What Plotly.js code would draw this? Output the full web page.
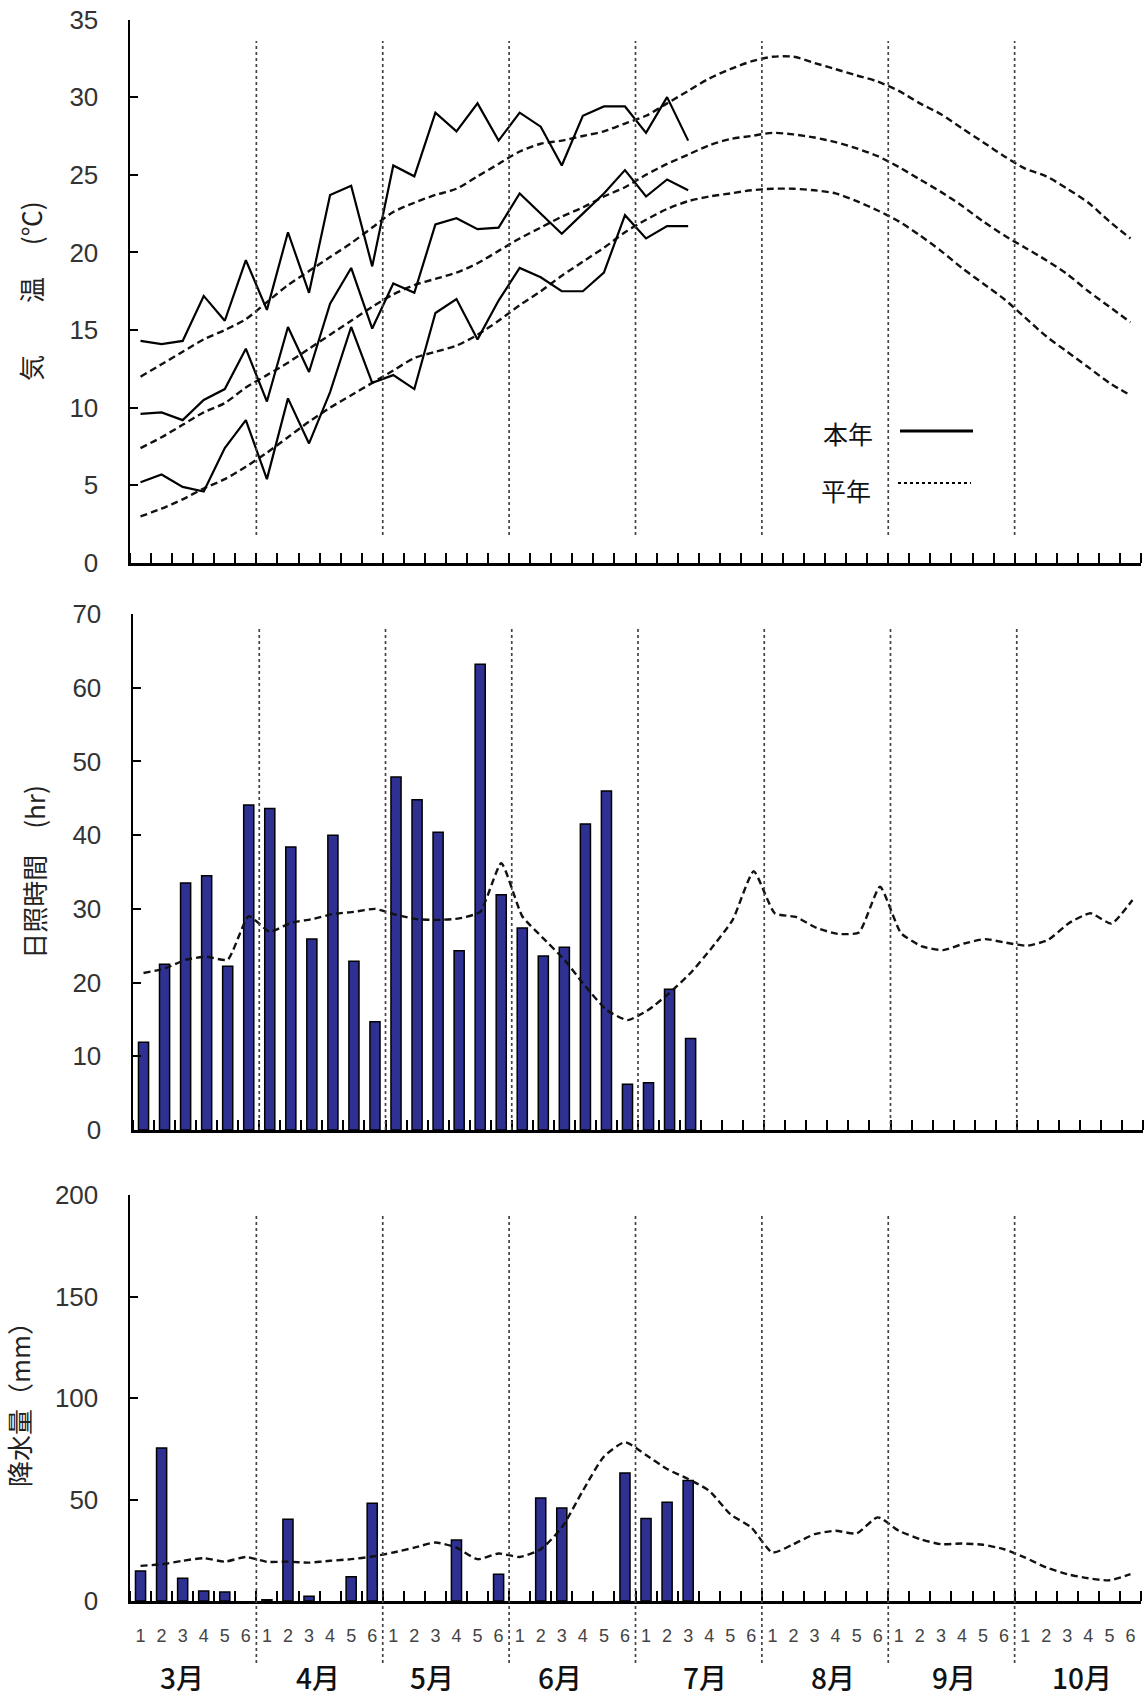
<!DOCTYPE html>
<html><head><meta charset="utf-8">
<script src="https://cdn.plot.ly/plotly-3.0.1.min.js"></script>
<style>html,body{margin:0;padding:0;background:#fff}#chart{width:1145px;height:1699px}</style>
</head><body><div id="chart"></div>
<script>
// ---- categories ----
const months = ['3月','4月','5月','6月','7月','8月','9月','10月'];
const periodLabels = ['1','2','3','4','5','6'];
const legendLabels = ['本年','平年'];

// ---- temperature (°C) ----
const tempMaxThisYear  = [14.3,14.1,14.3,17.2,15.6,19.5,16.3,21.3,17.4,23.7,24.3,19.1,25.6,24.9,29.0,27.8,29.6,27.2,29.0,28.1,25.6,28.8,29.4,29.4,27.7,30.0,27.2];
const tempMeanThisYear = [9.6,9.7,9.2,10.5,11.2,13.8,10.4,15.2,12.3,16.7,19.0,15.1,18.0,17.4,21.8,22.2,21.5,21.6,23.8,22.5,21.2,22.5,23.8,25.3,23.6,24.7,24.0];
const tempMinThisYear  = [5.2,5.7,4.9,4.6,7.4,9.2,5.4,10.6,7.7,11.0,15.2,11.6,12.1,11.2,16.1,17.0,14.4,16.9,19.0,18.4,17.5,17.5,18.7,22.4,20.9,21.7,21.7];
const tempMaxNormal  = [12.0,12.8,13.6,14.4,15.0,15.7,16.8,17.9,18.8,19.7,20.6,21.6,22.6,23.2,23.7,24.1,24.9,25.7,26.5,27.0,27.2,27.5,27.8,28.3,28.8,29.6,30.4,31.2,31.8,32.3,32.6,32.6,32.2,31.8,31.4,31.0,30.4,29.6,28.9,28.0,27.1,26.2,25.4,24.9,24.1,23.2,22.0,20.9];
const tempMeanNormal = [7.4,8.1,8.9,9.7,10.3,11.3,12.1,12.9,13.8,14.7,15.6,16.5,17.3,17.9,18.3,18.7,19.3,20.1,20.9,21.6,22.3,22.9,23.6,24.2,25.0,25.7,26.3,26.9,27.3,27.5,27.7,27.6,27.4,27.1,26.7,26.2,25.5,24.7,23.9,23.0,22.0,21.1,20.3,19.5,18.6,17.5,16.5,15.5];
const tempMinNormal  = [3.0,3.5,4.1,4.8,5.4,6.2,7.1,8.1,9.1,10.0,10.8,11.6,12.4,13.2,13.6,14.0,14.7,15.6,16.6,17.5,18.5,19.4,20.3,21.3,22.1,22.8,23.3,23.6,23.8,24.0,24.1,24.1,24.0,23.8,23.3,22.7,22.0,21.1,20.1,19.0,18.0,17.0,15.8,14.6,13.6,12.6,11.6,10.8];

// ---- sunshine (hr) ----
const sunThisYear = [11.9,22.5,33.5,34.5,22.2,44.1,43.6,38.4,25.9,40.0,22.9,14.7,47.9,44.8,40.4,24.3,63.2,31.9,27.4,23.6,24.8,41.5,46.0,6.2,6.4,19.1,12.4];
const sunNormal = [21.3,21.9,23.1,23.5,23.1,29.0,26.9,28.1,28.6,29.3,29.6,30.0,29.2,28.6,28.5,28.7,29.6,36.2,29.0,26.0,23.1,19.5,16.3,14.9,16.3,18.6,21.3,24.7,28.5,35.1,29.4,28.9,27.4,26.6,26.8,33.0,26.7,24.9,24.4,25.3,25.9,25.4,25.0,25.8,28.1,29.4,28.0,31.2];

// ---- precipitation (mm) ----
const rainThisYear = [14.8,75.4,11.2,4.9,4.4,0,0.6,40.3,2.3,0,11.9,48.1,0,0,0,30.0,0,13.2,0,50.7,45.8,0,0,63.0,40.7,48.6,59.3];
const rainNormal = [17.3,18.1,19.8,21.1,19.4,21.7,19.3,19.4,18.9,19.8,20.6,21.9,23.9,26.3,28.8,26.3,20.6,23.4,21.7,25.5,36.2,54.3,71.1,78.2,71.9,65.0,60.1,54.3,42.8,36.2,23.9,28.0,32.9,34.6,33.3,41.2,34.6,30.5,28.0,28.3,27.7,25.5,21.4,16.5,13.2,11.2,10.2,13.2];

// ---- layout helpers ----
const W = 1145, H = 1699;
const perMonth = periodLabels.length;
const nPer = months.length * perMonth;
const xc = Array.from({length: nPer}, (_, i) => i + 0.5);
const fx = p => p / W;
const fy = p => 1 - p / H;

const jp = 'Noto Sans CJK JP, sans-serif';
const tickFont = {family: 'Liberation Sans, Arial, sans-serif', size: 26, color: '#333'};
const titleFont = {family: jp, size: 26, color: '#222'};
const barColor = '#2e3192';
const dashNormal = '7px,4px';
// hand-placed month label nudges (px) as in the original
const monthLabelNudge = [-11, -2, -14, -12, 6, 8, 3, 4];

function xAxis(d0, d1, anchor, showLabels) {
  return {
    domain: [fx(d0), fx(d1)], anchor: anchor, range: [0, nPer],
    tickmode: 'array', tickvals: xc,
    ticktext: xc.map((_, i) => periodLabels[i % perMonth]),
    showticklabels: showLabels, ticks: '',
    tickfont: {family: 'Liberation Sans, Arial, sans-serif', size: 18, color: '#444'},
    ticklabelstandoff: 17,
    minor: {tickmode: 'linear', tick0: 0, dtick: 1, ticks: 'inside', ticklen: 10, tickwidth: 2, tickcolor: '#000', showgrid: false},
    showgrid: false, zeroline: false, showline: true, linecolor: '#000', linewidth: 2.5,
    fixedrange: true
  };
}
function yAxis(top, bottom, anchor, maxV, step, title, standoff) {
  return {
    domain: [fy(bottom), fy(top)], anchor: anchor, range: [0, maxV],
    tickmode: 'linear', tick0: 0, dtick: step,
    ticks: 'inside', ticklen: 8, tickwidth: 2, tickcolor: '#000',
    tickfont: tickFont, ticklabelstandoff: 24,
    showline: true, linecolor: '#000', linewidth: 2.5,
    showgrid: false, zeroline: false, fixedrange: true,
    title: {text: title, font: titleFont, standoff: standoff}
  };
}

const traces = [];
function solid(y, xa, ya) {
  traces.push({type: 'scatter', mode: 'lines', x: xc.slice(0, y.length), y: y, xaxis: xa, yaxis: ya,
    line: {color: '#000', width: 2.2}, hoverinfo: 'skip', showlegend: false});
}
function dashed(y, xa, ya, smooth) {
  traces.push({type: 'scatter', mode: 'lines', x: xc.slice(0, y.length), y: y, xaxis: xa, yaxis: ya,
    line: {color: '#111', width: 2.4, dash: dashNormal, shape: 'spline', smoothing: smooth},
    hoverinfo: 'skip', showlegend: false});
}
function bars(y, xa, ya) {
  traces.push({type: 'bar', x: xc.slice(0, y.length), y: y, xaxis: xa, yaxis: ya, width: 0.48,
    marker: {color: barColor, line: {color: '#000', width: y.map(v => v > 0 ? 1.5 : 0)}},
    hoverinfo: 'skip', showlegend: false});
}

// panel 1: temperature
dashed(tempMaxNormal, 'x', 'y', 0.8);
dashed(tempMeanNormal, 'x', 'y', 0.8);
dashed(tempMinNormal, 'x', 'y', 0.8);
solid(tempMaxThisYear, 'x', 'y');
solid(tempMeanThisYear, 'x', 'y');
solid(tempMinThisYear, 'x', 'y');
// panel 2: sunshine
bars(sunThisYear, 'x2', 'y2');
dashed(sunNormal, 'x2', 'y2', 0.5);
// panel 3: precipitation
bars(rainThisYear, 'x3', 'y3');
dashed(rainNormal, 'x3', 'y3', 0.6);

// month dividers
const shapes = [];
function dividers(xref, yTop, yBottom) {
  for (let m = 1; m < months.length; m++) {
    const xv = (m * perMonth) / nPer;
    shapes.push({type: 'line', xref: xref + ' domain', yref: 'paper', x0: xv, x1: xv,
      y0: fy(yBottom), y1: fy(yTop), line: {color: '#444', width: 1.7, dash: 'dot'}, layer: 'above'});
  }
}
dividers('x', 41, 535);
dividers('x2', 626, 1130);
dividers('x3', 1213, 1663);

// legend (本年 solid, 平年 dotted)
shapes.push({type: 'line', xref: 'paper', yref: 'paper', x0: fx(900), x1: fx(973), y0: fy(431), y1: fy(431), line: {color: '#000', width: 3}});
shapes.push({type: 'line', xref: 'paper', yref: 'paper', x0: fx(898), x1: fx(971), y0: fy(483), y1: fy(483), line: {color: '#000', width: 2.2, dash: 'dot'}});

const annotations = [];
annotations.push({xref: 'paper', yref: 'paper', x: fx(848), y: fy(433), text: legendLabels[0], showarrow: false,
  xanchor: 'center', yanchor: 'middle', font: {family: jp, size: 25, color: '#111'}});
annotations.push({xref: 'paper', yref: 'paper', x: fx(846), y: fy(490), text: legendLabels[1], showarrow: false,
  xanchor: 'center', yanchor: 'middle', font: {family: jp, size: 25, color: '#111'}});
months.forEach((m, k) => {
  annotations.push({xref: 'x3', yref: 'paper', x: k * perMonth + perMonth / 2, y: fy(1677), xshift: monthLabelNudge[k],
    text: m, showarrow: false, xanchor: 'center', yanchor: 'middle',
    font: {family: jp, size: 28, weight: 500, color: '#111'}});
});

const layout = {
  width: W, height: H, margin: {l: 0, r: 0, t: 0, b: 0},
  paper_bgcolor: '#fff', plot_bgcolor: 'rgba(0,0,0,0)', showlegend: false,
  xaxis: xAxis(130, 1141, 'y', false),
  yaxis: yAxis(19.5, 563, 'x', 35, 5, '気　　温　 (℃)', 20),
  xaxis2: xAxis(133, 1143, 'y2', false),
  yaxis2: yAxis(614, 1130, 'x2', 70, 10, '日照時間　(hr)', 20),
  xaxis3: xAxis(130, 1141, 'y3', true),
  yaxis3: yAxis(1195, 1601, 'x3', 200, 50, '降水量（mm）', 18),
  shapes: shapes, annotations: annotations
};

Plotly.newPlot('chart', traces, layout, {staticPlot: true, displayModeBar: false});
</script></body></html>
